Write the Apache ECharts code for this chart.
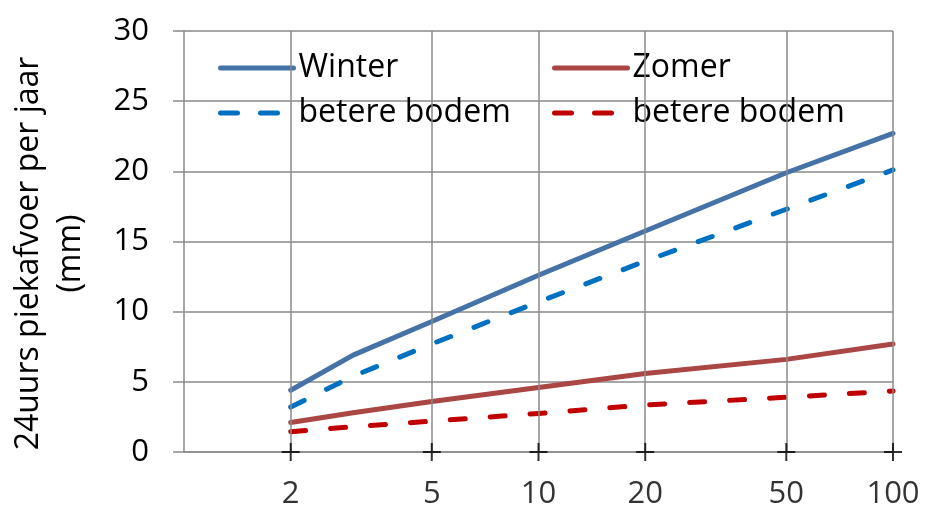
<!DOCTYPE html>
<html>
<head>
<meta charset="utf-8">
<script src="https://cdn.jsdelivr.net/npm/echarts@6/dist/echarts.min.js"></script>
<style>
  html, body { margin: 0; padding: 0; background: #fff; }
  #chart { width: 927px; height: 512px; }
</style>
</head>
<body>
<div id="chart"></div>
<script>
// Herhalingstijd (jaar) en 24-uurs piekafvoer (mm)
const returnPeriods = [2, 3, 5, 10, 20, 50, 100];
const winter        = [4.4, 6.9, 9.3, 12.6, 15.75, 19.9, 22.7];
const winterBodem   = [3.2, 5.4, 7.7, 10.7, 13.6, 17.3, 20.1];
const zomer         = [2.1, 2.8, 3.6, 4.6, 5.6, 6.6, 7.7];
const zomerBodem    = [1.45, 1.8, 2.2, 2.75, 3.35, 3.9, 4.35];

// Gemarkeerde herhalingstijden op de x-as
const xTicks = [2, 5, 10, 20, 50, 100];
const yTitle = '24uurs piekafvoer per jaar\n(mm)';

const FONT = 'Open Sans';
const GRID = '#8a8a8a';

const pairs = vals => returnPeriods.map((t, i) => [t, vals[i]]);
const dash = [15, 25];
const legendDash = [17, 23];

const legendBase = {
  top: 51, orient: 'vertical', padding: 0,
  itemWidth: 73, itemHeight: 14, itemGap: 11,
  itemStyle: { opacity: 0 },
  lineStyle: { width: 5, cap: 'round' },
  textStyle: { fontFamily: FONT, fontSize: 32, color: '#000', lineHeight: 34 },
  selectedMode: false
};

const chart = echarts.init(document.getElementById('chart'));
chart.setOption({
  animation: false,
  textStyle: { fontFamily: FONT },
  grid: { left: 184, right: 34, top: 31, bottom: 60, containLabel: false },
  legend: [
    Object.assign({}, legendBase, {
      left: 218,
      data: ['Winter', { name: 'Winter bodem', lineStyle: { type: legendDash } }],
      formatter: n => n === 'Winter' ? 'Winter' : 'betere bodem'
    }),
    Object.assign({}, legendBase, {
      left: 552,
      data: ['Zomer', { name: 'Zomer bodem', lineStyle: { type: legendDash } }],
      formatter: n => n === 'Zomer' ? 'Zomer' : 'betere bodem'
    })
  ],
  xAxis: {
    type: 'log', logBase: 10, min: 1, max: 100,
    axisLine: { show: true, lineStyle: { color: GRID, width: 1.5 } },
    axisTick: { show: false },
    axisLabel: { show: false },
    splitLine: { show: false },
    minorTick: { show: false },
    minorSplitLine: { show: false }
  },
  yAxis: {
    type: 'value', min: 0, max: 30, interval: 5,
    name: yTitle, nameLocation: 'middle', nameGap: 92, nameRotate: 90,
    nameTextStyle: {
      fontFamily: FONT, fontSize: 32, color: '#000', lineHeight: 42,
      padding: [0, 24, 0, 0]
    },
    axisLine: { show: true, lineStyle: { color: GRID, width: 1.5 } },
    axisTick: { show: true, length: 11, lineStyle: { color: GRID, width: 1.5 } },
    axisLabel: { margin: 35, fontFamily: FONT, fontSize: 31, color: '#000' },
    splitLine: { show: true, lineStyle: { color: GRID, width: 1.5 } }
  },
  series: [
    {
      // verticale rasterlijnen
      name: 'raster', type: 'line', data: [], z: 1, silent: true,
      markLine: {
        silent: true, symbol: 'none', label: { show: false },
        lineStyle: { color: GRID, width: 1.5, type: 'solid' },
        data: xTicks.map(t => ({ xAxis: t }))
      }
    },
    {
      name: 'Winter', type: 'line', data: pairs(winter),
      symbol: 'none', lineStyle: { color: '#4572A7', width: 5, cap: 'round', join: 'round' },
      itemStyle: { color: '#4572A7' }
    },
    {
      name: 'Winter bodem', type: 'line', data: pairs(winterBodem),
      symbol: 'none', lineStyle: { color: '#0070C0', width: 5, type: dash, cap: 'round', join: 'round' },
      itemStyle: { color: '#0070C0' }
    },
    {
      name: 'Zomer', type: 'line', data: pairs(zomer),
      symbol: 'none', lineStyle: { color: '#AA4643', width: 5, cap: 'round', join: 'round' },
      itemStyle: { color: '#AA4643' }
    },
    {
      name: 'Zomer bodem', type: 'line', data: pairs(zomerBodem),
      symbol: 'none', lineStyle: { color: '#C00000', width: 5, type: dash, cap: 'round', join: 'round' },
      itemStyle: { color: '#C00000' }
    },
    {
      // kruisjes en labels op de x-as
      name: 'x-as', type: 'scatter', clip: false, silent: true, z: 5,
      data: xTicks.map(t => [t, 0]),
      symbol: 'path://M8,0h2v8h8v2h-8v8h-2v-8h-8v-2h8z',
      symbolSize: 18,
      itemStyle: { color: '#000' },
      label: {
        show: true, position: 'bottom', distance: 18,
        formatter: p => String(p.value[0]),
        fontFamily: FONT, fontSize: 31, color: '#000'
      }
    }
  ]
});
</script>
</body>
</html>
